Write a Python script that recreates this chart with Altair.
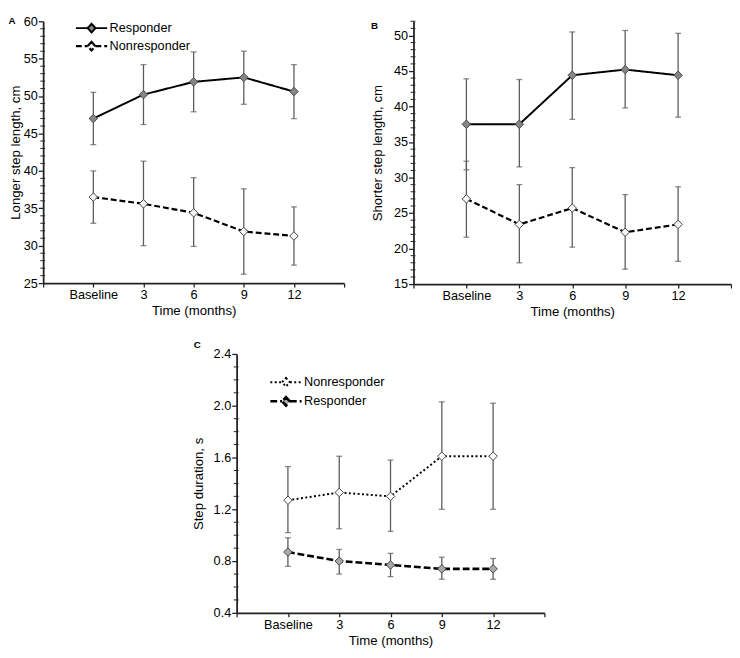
import altair as alt
import pandas as pd

FONT = "Liberation Sans"

months = ["Baseline", "3", "6", "9", "12"]
idx = [0, 1, 2, 3, 4]

# Panel A: longer step length (cm)
A_resp_mean = [47.0, 50.2, 51.9, 52.5, 50.6]
A_resp_lo = [43.5, 46.2, 47.9, 48.9, 47.0]
A_resp_hi = [50.5, 54.2, 55.9, 56.0, 54.2]
A_non_mean = [36.5, 35.6, 34.4, 31.9, 31.3]
A_non_lo = [33.0, 30.0, 29.9, 26.2, 27.4]
A_non_hi = [40.0, 41.3, 39.1, 37.6, 35.2]

# Panel B: shorter step length (cm)
B_resp_mean = [37.5, 37.5, 44.4, 45.2, 44.4]
B_resp_lo = [31.1, 31.5, 38.2, 39.8, 38.5]
B_resp_hi = [43.9, 43.8, 50.5, 50.7, 50.3]
B_non_mean = [27.0, 23.4, 25.7, 22.3, 23.4]
B_non_lo = [21.6, 18.0, 20.2, 17.1, 18.2]
B_non_hi = [32.3, 29.0, 31.4, 27.6, 28.7]

# Panel C: step duration (s)
C_non_mean = [1.27, 1.33, 1.30, 1.61, 1.61]
C_non_lo = [1.02, 1.05, 1.03, 1.20, 1.20]
C_non_hi = [1.53, 1.61, 1.58, 2.03, 2.02]
C_resp_mean = [0.87, 0.80, 0.77, 0.74, 0.74]
C_resp_lo = [0.76, 0.70, 0.68, 0.66, 0.66]
C_resp_hi = [0.98, 0.89, 0.86, 0.83, 0.82]

A_major = [25, 30, 35, 40, 45, 50, 55, 60]
A_minor = [v for v in range(25, 61) if v % 5]
B_major = [15, 20, 25, 30, 35, 40, 45, 50]
B_minor = [v for v in range(15, 53) if v % 5]
C_major = [0.4, 0.8, 1.2, 1.6, 2.0, 2.4]
C_minor = [0.5, 0.6, 0.7, 0.9, 1.0, 1.1, 1.3, 1.4, 1.5, 1.7, 1.8, 1.9, 2.1, 2.2, 2.3]

LEG_PATH = "M-2,0L-0.5,0M0.5,0L2,0M0,-0.55L0.5,0L0,0.55L-0.5,0Z"


def make_df(series_list):
    rows = []
    for name, mean, lo, hi in series_list:
        for i, m, l, h in zip(idx, mean, lo, hi):
            rows.append({"t": i, "series": name, "mean": m, "lo": l, "hi": h})
    return pd.DataFrame(rows)


def panel(df, order, dashes, fills, widths, ydom, major, minor, fmt,
          ytitle, letter, w, h, lx, ly, ytp, title_offset, title_frame="bounds",
          title_dx=0):
    xlabels_js = "[" + ",".join("'" + s + "'" for s in ([""] + months + [""])) + "]"
    x = alt.X("t:Q", scale=alt.Scale(domain=[-1, 5], nice=False, zero=False),
              axis=alt.Axis(values=[-1, 0, 1, 2, 3, 4, 5],
                            labelExpr=xlabels_js + "[datum.value + 1]",
                            title="Time (months)", tickSize=4, labelPadding=2,
                            titlePadding=2, labelOverlap=False, labelFlush=False))
    yscale = alt.Scale(domain=ydom, nice=False, zero=False)
    yaxis = alt.Axis(values=major, title=ytitle, format=fmt, tickSize=5,
                     labelPadding=1, titlePadding=ytp, labelFlush=False,
                     labelOverlap=False)
    y = alt.Y("mean:Q", scale=yscale, axis=yaxis)
    leg = alt.Legend(title=None, orient="none", legendX=lx, legendY=ly,
                     symbolType=LEG_PATH, symbolSize=256, symbolStrokeColor="black",
                     symbolStrokeWidth=1.6, labelFontSize=13, labelFont=FONT,
                     labelColor="black", labelOffset=9, rowPadding=0, padding=0)
    base = alt.Chart(df)
    minor_ticks = alt.Chart(pd.DataFrame({"v": minor})).mark_rule(
        color="#222", strokeWidth=1).encode(
        y=alt.Y("v:Q", scale=yscale, axis=yaxis), x=alt.value(-3), x2=alt.value(2))
    rules = base.mark_rule(color="#5a5a5a", strokeWidth=1.3).encode(
        x=x, y=alt.Y("lo:Q", scale=yscale, axis=yaxis), y2="hi:Q")
    cap_lo = base.mark_tick(orient="horizontal", color="#5a5a5a", size=6, thickness=1.3).encode(
        x=x, y=alt.Y("lo:Q", scale=yscale, axis=yaxis))
    cap_hi = base.mark_tick(orient="horizontal", color="#5a5a5a", size=6, thickness=1.3).encode(
        x=x, y=alt.Y("hi:Q", scale=yscale, axis=yaxis))
    line = base.mark_line(color="black").encode(
        x=x, y=y,
        detail="series:N",
        strokeDash=alt.StrokeDash("series:N", scale=alt.Scale(domain=order, range=dashes), legend=leg),
        strokeWidth=alt.StrokeWidth("series:N", scale=alt.Scale(domain=order, range=widths), legend=None))
    pts = base.mark_point(shape="diamond", filled=True, size=75, stroke="#444", strokeWidth=1,
                          opacity=1).encode(
        x=x, y=y,
        fill=alt.Fill("series:N", scale=alt.Scale(domain=order, range=fills), legend=leg))
    return alt.layer(rules, cap_lo, cap_hi, line, pts, minor_ticks).properties(
        width=w, height=h,
        title=alt.TitleParams(letter, anchor="start", frame=title_frame, fontSize=10,
                              fontWeight="bold", font=FONT, color="black",
                              offset=title_offset, dx=title_dx))


dfA = make_df([("Responder", A_resp_mean, A_resp_lo, A_resp_hi),
               ("Nonresponder", A_non_mean, A_non_lo, A_non_hi)])
dfB = make_df([("Responder", B_resp_mean, B_resp_lo, B_resp_hi),
               ("Nonresponder", B_non_mean, B_non_lo, B_non_hi)])
dfC = make_df([("Nonresponder", C_non_mean, C_non_lo, C_non_hi),
               ("Responder", C_resp_mean, C_resp_lo, C_resp_hi)])

pA = panel(dfA, ["Responder", "Nonresponder"], [[1, 0], [6, 3]], ["#858585", "#f4f4f4"],
           [2, 2.2], [25, 60], A_major, A_minor, "d", "Longer step length, cm", "A",
           308, 268, 40, -2, 1, -10.5)
pB = panel(dfB, ["Responder", "Nonresponder"], [[1, 0], [6, 3]], ["#858585", "#f4f4f4"],
           [2, 2.2], [15, 52], B_major, B_minor, "d", "Shorter step length, cm", "B",
           325, 269, 44, 0, 9, -10.5)
# C's legend is lifted to the bottom row, so its position is given from that row's origin
pC = panel(dfC, ["Nonresponder", "Responder"], [[2, 2.5], [7, 3]], ["#fafafa", "#a8a8a8"],
           [2, 2.6], [0.4, 2.4], C_major, C_minor, ".1f", "Step duration, s", "C",
           315, 265, 239, 20, 8, -2, title_frame="group", title_dx=-44)

spacer = alt.Chart(pd.DataFrame({"a": [0]})).mark_point(opacity=0).properties(
    width=151, height=10)

top = alt.hconcat(pA, pB, spacing=26)
bottom = alt.hconcat(spacer, pC, spacing=0)
chart = alt.vconcat(top, bottom, spacing=22.5).resolve_scale(
    strokeDash="independent", fill="independent", strokeWidth="independent"
).resolve_legend(
    strokeDash="independent", fill="independent"
).properties(padding=0).configure_view(
    stroke=None
).configure_axis(
    labelFont=FONT, titleFont=FONT, labelFontSize=13, titleFontSize=13.5,
    labelColor="black", titleColor="black", titleFontWeight="normal",
    domainColor="#222", domainWidth=1.8, tickColor="#222", tickWidth=1.3, grid=False
)

chart.save("out.html", embed_options={"renderer": "svg", "actions": False})
